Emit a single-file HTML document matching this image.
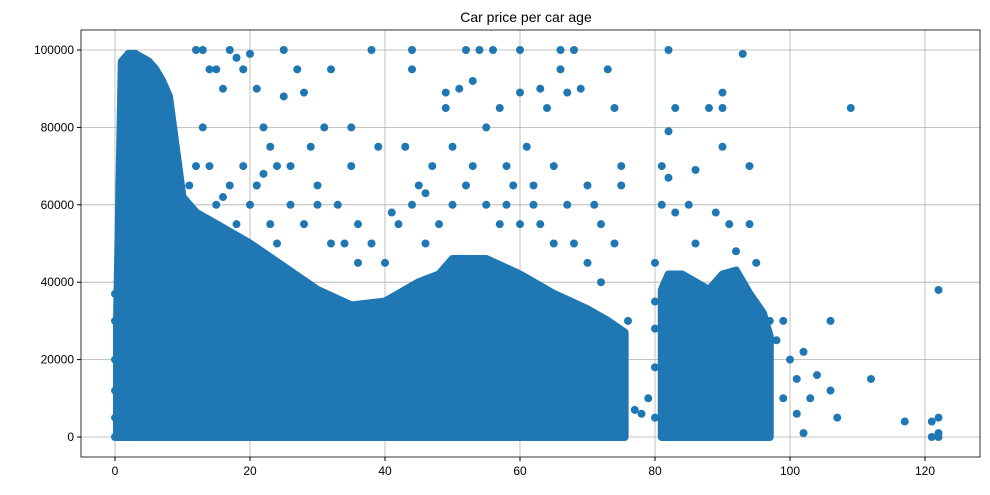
<!DOCTYPE html>
<html><head><meta charset="utf-8"><style>
body{margin:0;background:#fff;font-family:"Liberation Sans",sans-serif}
</style></head><body>
<svg id="chart" width="990" height="490" xmlns="http://www.w3.org/2000/svg" font-family="Liberation Sans, sans-serif">
<text x="526" y="22" font-size="14" text-anchor="middle">Car price per car age</text>
<g id="grid"></g><g id="marks"></g><g id="axes"></g>
</svg>
<script>
const xTicks=[0,20,40,60,80,100,120];
const yTicks=[0,20000,40000,60000,80000,100000];
const yTickLabels=["0","20000","40000","60000","80000","100000"];
const denseAges=[0.3,1,2,3,4,5,6,7,8,9,10,12,15,18,20,25,30,35,40,45,48,50,55,60,65,70,73,75.5];
const denseTops=[30000,97000,99000,99000,98000,97000,95000,92000,88000,75000,62000,58000,55000,52000,50000,44000,38000,34000,35000,40000,42000,46000,46000,42000,37000,33000,30000,27000];
const farAges=[81,82,84,86,88,90,92,94,96,97];
const farTops=[38000,42000,42000,40000,38000,42000,43000,37000,32000,26000];
const ptAges=[12,13,14,15,16,17,18,19,20,21,22,23,24,25,25,26,27,28,29,30,31,32,33,35,35,36,38,39,41,43,44,44,45,46,47,49,49,50,51,52,53,54,55,56,57,58,59,60,60,61,62,63,64,65,66,66,67,68,69,70,71,72,73,74,75,75,74,
11,12,13,14,15,16,17,18,19,20,21,22,23,24,26,28,30,32,34,36,38,40,42,44,46,48,50,52,53,55,57,58,60,62,63,65,67,68,70,72,
81,81,82,82,82,83,83,85,86,86,88,89,90,90,90,91,92,93,94,94,95,97,98,99,100,101,102,103,104,106,106,107,109,112,117,121,122,122,122,121,122,102,101,96,93,90,86,78,77,79,80,80,80,80,80,76,99,0,0,0,0,0,0];
const ptPrices=[100000,100000,95000,95000,90000,100000,98000,95000,99000,90000,80000,75000,70000,100000,88000,70000,95000,89000,75000,65000,80000,95000,60000,80000,70000,55000,100000,75000,58000,75000,100000,95000,65000,63000,70000,89000,85000,75000,90000,100000,92000,100000,80000,100000,85000,70000,65000,100000,89000,75000,65000,90000,85000,70000,100000,95000,89000,100000,90000,65000,60000,55000,95000,85000,70000,65000,50000,
65000,70000,80000,70000,60000,62000,65000,55000,70000,60000,65000,68000,55000,50000,60000,55000,60000,50000,50000,45000,50000,45000,55000,60000,50000,55000,60000,65000,70000,60000,55000,60000,55000,60000,55000,50000,60000,50000,45000,40000,
70000,60000,100000,79000,67000,85000,58000,60000,50000,69000,85000,58000,89000,85000,75000,55000,48000,99000,70000,55000,45000,30000,25000,30000,20000,15000,22000,10000,16000,30000,12000,5000,85000,15000,4000,4000,38000,5000,1000,0,0,1000,6000,0,0,0,0,6000,7000,10000,45000,35000,28000,18000,5000,30000,10000,0,12000,20000,30000,37000,5000];
const X0=115,KX=6.75,Y0=437,KY=0.00387;
const sx=v=>X0+v*KX, sy=v=>Y0-v*KY;
const NS="http://www.w3.org/2000/svg";
const g=document.getElementById('grid'),m=document.getElementById('marks'),a=document.getElementById('axes');
function el(t,at,p){const e=document.createElementNS(NS,t);for(const k in at)e.setAttribute(k,at[k]);p.appendChild(e);return e;}
const L=81,R=980,T=30,B=457;
xTicks.forEach(v=>{const x=sx(v);
 const ln=el('line',{x1:x,x2:x,y1:T,y2:B,stroke:'#b0b0b0','stroke-width':0.8},g);
 
 el('line',{x1:x,x2:x,y1:B,y2:B+4,stroke:'#000'},a);
 const t=el('text',{x:x,y:B+18,'font-size':12,'text-anchor':'middle'},a);t.textContent=v;
 });
yTicks.forEach((v,i)=>{const y=sy(v);
 const ln=el('line',{x1:L,x2:R,y1:y,y2:y,stroke:'#b0b0b0','stroke-width':0.8},g);
 
 el('line',{x1:L-4,x2:L,y1:y,y2:y,stroke:'#000'},a);
 const t=el('text',{x:L-7,y:y+4,'font-size':12,'text-anchor':'end'},a);t.textContent=yTickLabels[i];
 });
const fr=el('rect',{x:L,y:T,width:R-L,height:B-T,fill:'none',stroke:'#000','stroke-width':0.8},a);

function band(ages,tops,name){
 let pts=ages.map((v,i)=>sx(v)+','+sy(tops[i]));
 pts.push(sx(ages[ages.length-1])+','+sy(0));pts.push(sx(ages[0])+','+sy(0));
 const p=el('polygon',{points:pts.join(' '),fill:'#1f77b4',stroke:'#1f77b4','stroke-width':8,'stroke-linejoin':'round'},m);
 }
band(denseAges,denseTops,'dense-points-main');
band(farAges,farTops,'dense-points-old-cars');
ptAges.forEach((v,i)=>{const c=el('circle',{cx:sx(v),cy:sy(ptPrices[i]),r:4,fill:'#1f77b4'},m);
 });
</script>
</body></html>
